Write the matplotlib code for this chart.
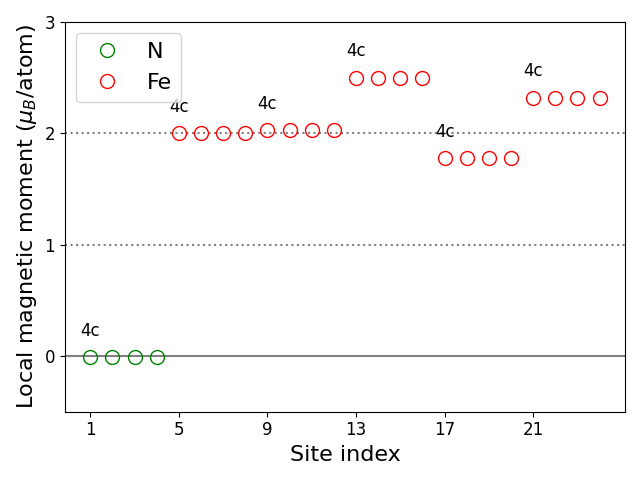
import matplotlib
matplotlib.use("Agg")
import matplotlib.pyplot as plt

# site indices and local moments (mu_B/atom)
n_sites = [1, 2, 3, 4]
n_moments = [-0.013, -0.013, -0.013, -0.013]
fe_sites = [5, 6, 7, 8, 9, 10, 11, 12, 13, 14, 15, 16, 17, 18, 19, 20, 21, 22, 23, 24]
fe_moments = [2.00, 2.00, 2.00, 2.00,
              2.03, 2.03, 2.03, 2.03,
              2.50, 2.50, 2.50, 2.50,
              1.78, 1.78, 1.78, 1.78,
              2.32, 2.32, 2.32, 2.32]

# Wyckoff labels at first site of each group
label_sites = [1, 5, 9, 13, 17, 21]
label_moments = [-0.013, 2.00, 2.03, 2.50, 1.78, 2.32]
label_text = ['4c', '4c', '4c', '4c', '4c', '4c']

fig, ax = plt.subplots(figsize=(6.4, 4.8), dpi=100)

ax.axhline(0, color='gray', linestyle='-', linewidth=1.5)
ax.axhline(1, color='gray', linestyle=':', linewidth=1.5)
ax.axhline(2, color='gray', linestyle=':', linewidth=1.5)

ax.plot(n_sites, n_moments, 'o', mfc='none', mec='green', ms=10, label='N')
ax.plot(fe_sites, fe_moments, 'o', mfc='none', mec='red', ms=10, label='Fe')

for xs, ys, t in zip(label_sites, label_moments, label_text):
  ax.text(xs, ys + 0.155, t, ha='center', va='bottom', fontsize=12)

ax.set_ylim(-0.5, 3)
ax.set_yticks([0, 1, 2, 3])
ax.set_xticks([1, 5, 9, 13, 17, 21])
ax.tick_params(labelsize=12)
ax.set_xlabel('Site index', fontsize=16)
ax.set_ylabel(r'Local magnetic moment ($\mu_B$/atom)', fontsize=16)
ax.legend(loc='upper left', fontsize=16)

fig.tight_layout()
fig.savefig('out.png')
